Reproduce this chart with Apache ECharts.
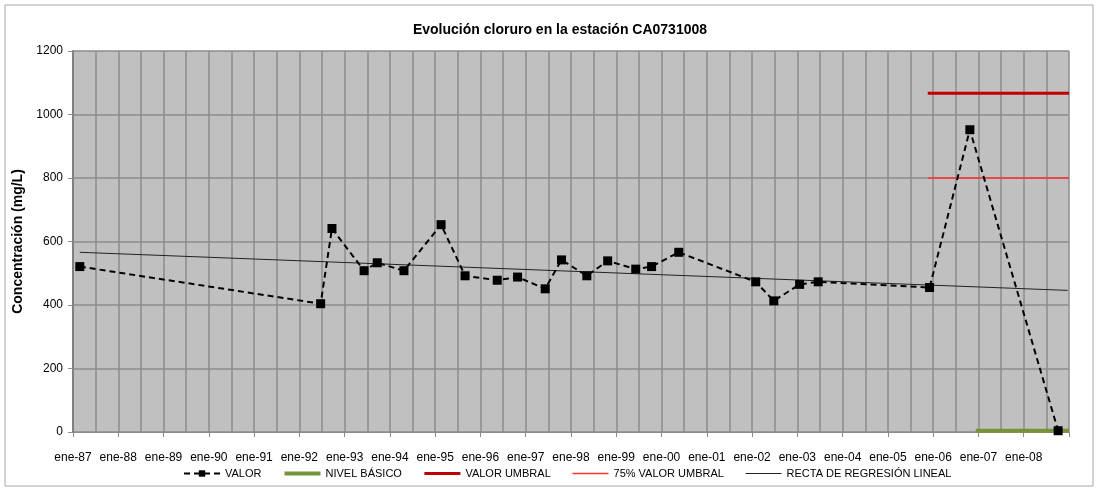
<!DOCTYPE html>
<html>
<head>
<meta charset="utf-8">
<script src="https://cdn.jsdelivr.net/npm/echarts@6/dist/echarts.min.js"></script>
<style>
  html, body { margin: 0; padding: 0; background: #fff; }
  #main { width: 1098px; height: 491px; }
</style>
</head>
<body>
<div id="main"></div>
<script>
// fechas como años decimales, valores en mg/L
var valorYears = [1987.15, 1992.47, 1992.72, 1993.43, 1993.72, 1994.31, 1995.13, 1995.66, 1996.37, 1996.82,
                  1997.43, 1997.79, 1998.35, 1998.81, 1999.43, 1999.78, 2000.38, 2002.08, 2002.48, 2003.05,
                  2003.46, 2005.92, 2006.81, 2008.76];
var valorValues = [521, 404, 641, 508, 533, 508, 653, 492, 478, 488,
                   451, 542, 492, 539, 513, 521, 566, 473, 413, 465,
                   473, 455, 952, 4];

var nivelYears = [2006.94, 2009];
var nivelValues = [4, 4];
var umbralYears = [2005.88, 2009];
var umbralValues = [1067, 1067];
var umbral75Years = [2005.88, 2009];
var umbral75Values = [800, 800];
var regresionYears = [1987.15, 2008.97];
var regresionValues = [566, 446];

var yTicks = [0, 200, 400, 600, 800, 1000, 1200];

function pairs(xs, ys) {
    return xs.map(function (x, i) { return [x, ys[i]]; });
}

var myChart = echarts.init(document.getElementById('main'));

var gridColor = '#8c8c8c';
var hideDot = { opacity: 0 };

var option = {
    backgroundColor: '#ffffff',
    textStyle: { fontFamily: 'Liberation Sans, Arial, sans-serif' },
    title: {
        text: 'Evolución cloruro en la estación CA0731008',
        left: 555,
        textAlign: 'center',
        top: 18,
        textStyle: { fontSize: 14, fontWeight: 'bold', color: '#000' }
    },
    graphic: [{
        type: 'rect',
        shape: { x: 5, y: 5, width: 1088, height: 481 },
        style: { fill: 'none', stroke: '#a6a6a6', lineWidth: 1 },
        silent: true
    }],
    legend: {
        bottom: 7,
        left: 178,
        itemWidth: 36,
        itemHeight: 8,
        itemGap: 21,
        textStyle: { fontSize: 11, color: '#000' },
        data: [
            { name: 'VALOR' },
            { name: 'NIVEL BÁSICO', itemStyle: hideDot, lineStyle: { width: 4 } },
            { name: 'VALOR UMBRAL', itemStyle: hideDot, lineStyle: { width: 3 } },
            { name: '75% VALOR UMBRAL', itemStyle: hideDot, lineStyle: { width: 1.5 } },
            { name: 'RECTA DE REGRESIÓN LINEAL', itemStyle: hideDot, lineStyle: { width: 1.2 } }
        ]
    },
    grid: { left: 73, right: 29, top: 51, bottom: 59, show: true, backgroundColor: '#c0c0c0', borderWidth: 0 },
    xAxis: {
        type: 'value',
        min: 1987,
        max: 2009,
        interval: 1,
        axisLine: { show: true, lineStyle: { color: gridColor, width: 1 } },
        axisTick: { show: true, length: 5, lineStyle: { color: gridColor } },
        axisLabel: {
            margin: 20,
            fontSize: 12,
            color: '#000',
            formatter: function (v) {
                if (v >= 2009) return '';
                return 'ene-' + String(Math.round(v)).slice(2);
            }
        },
        splitLine: { show: true, lineStyle: { color: gridColor, width: 1.5 } },
        minorTick: { show: false, splitNumber: 2 },
        minorSplitLine: { show: true, lineStyle: { color: gridColor, width: 1.5 } }
    },
    yAxis: {
        type: 'value',
        min: yTicks[0],
        max: yTicks[yTicks.length - 1],
        interval: 200,
        name: 'Concentración (mg/L)',
        nameLocation: 'middle',
        nameGap: 47,
        nameTextStyle: { fontSize: 14, fontWeight: 'bold', color: '#000' },
        axisLine: { show: true, lineStyle: { color: '#808080', width: 2 } },
        axisTick: { show: true, length: 5, lineStyle: { color: gridColor } },
        axisLabel: { fontSize: 12, color: '#000', margin: 10, formatter: function (v) { return String(v); } },
        splitLine: { show: true, lineStyle: { color: gridColor, width: 1.5 } }
    },
    series: [
        {
            name: 'VALOR',
            type: 'line',
            data: pairs(valorYears, valorValues),
            symbol: 'rect',
            symbolSize: 9,
            itemStyle: { color: '#000' },
            lineStyle: { color: '#000', width: 2, type: [6, 4] },
            z: 5
        },
        {
            name: 'NIVEL BÁSICO',
            type: 'line',
            data: pairs(nivelYears, nivelValues),
            symbol: 'none',
            itemStyle: { color: '#77933c' },
            lineStyle: { color: '#77933c', width: 4 },
            z: 4
        },
        {
            name: 'VALOR UMBRAL',
            type: 'line',
            data: pairs(umbralYears, umbralValues),
            symbol: 'none',
            itemStyle: { color: '#c00000' },
            lineStyle: { color: '#c00000', width: 3 }
        },
        {
            name: '75% VALOR UMBRAL',
            type: 'line',
            data: pairs(umbral75Years, umbral75Values),
            symbol: 'none',
            itemStyle: { color: '#ff3030' },
            lineStyle: { color: '#ff3030', width: 1.5 }
        },
        {
            name: 'RECTA DE REGRESIÓN LINEAL',
            type: 'line',
            data: pairs(regresionYears, regresionValues),
            symbol: 'none',
            itemStyle: { color: '#222' },
            lineStyle: { color: '#222', width: 1 }
        }
    ]
};

myChart.setOption(option);
</script>
</body>
</html>
